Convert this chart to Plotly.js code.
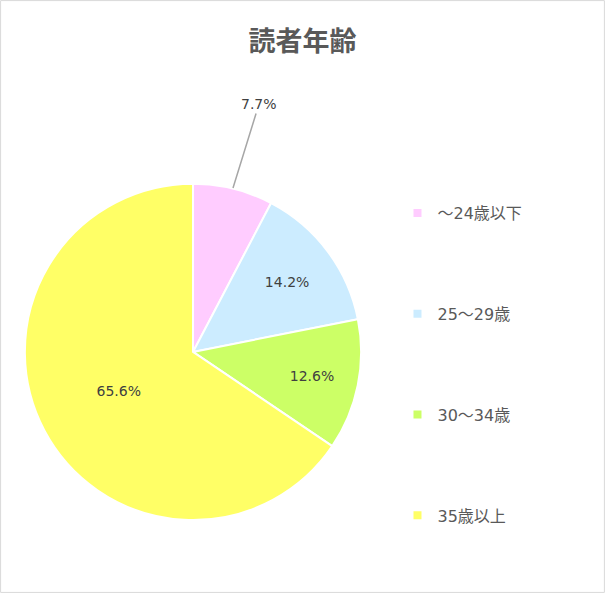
<!DOCTYPE html>
<html>
<head>
<meta charset="utf-8">
<script src="https://cdn.plot.ly/plotly-3.0.1.min.js"></script>
<style>
  html, body { margin: 0; padding: 0; background: #fff; }
  #chart { width: 605px; height: 593px; }
</style>
</head>
<body>
<div id="chart"></div>
<script>
// 読者年齢の内訳 (%)
var ageLabels = ['～24歳以下', '25～29歳', '30～34歳', '35歳以上'];
var ageValues = [7.7, 14.2, 12.6, 65.6];
var sliceColors = ['#FFCCFF', '#CCECFF', '#CCFF66', '#FFFF66'];

var font = '"DejaVu Sans", "Noto Sans CJK JP", sans-serif';
var titleFont = '"Noto Sans CJK JP", sans-serif';

var pie = {
  type: 'pie',
  labels: ageLabels,
  values: ageValues,
  sort: false,
  direction: 'clockwise',
  rotation: 0,
  marker: { colors: sliceColors, line: { color: '#FFFFFF', width: 2 } },
  texttemplate: '%{value:.1f}%',
  textposition: ['none', 'inside', 'inside', 'inside'],
  insidetextorientation: 'horizontal',
  textfont: { family: font, size: 14, color: '#404040' },
  hoverinfo: 'label+value',
  showlegend: false,
  domain: { x: [0.041, 0.597], y: [0.123, 0.690] }
};

// legend entries (square markers), one group each so they can be spaced apart
var traces = [pie];
for (var i = 0; i < ageLabels.length; i++) {
  traces.push({
    type: 'scatter',
    mode: 'markers',
    x: [null], y: [null],
    name: ageLabels[i],
    legendgroup: 'g' + i,
    marker: { symbol: 'square', size: 8, color: sliceColors[i] },
    hoverinfo: 'skip'
  });
}

var layout = {
  width: 605,
  height: 593,
  margin: { l: 0, r: 0, t: 0, b: 0 },
  paper_bgcolor: '#FFFFFF',
  plot_bgcolor: '#FFFFFF',
  font: { family: font, color: '#595959' },
  title: {
    text: '<b>読者年齢</b>',
    font: { family: titleFont, size: 27, color: '#595959' },
    x: 0.5, xanchor: 'center',
    y: 1 - 42 / 593, yanchor: 'middle', yref: 'container'
  },
  xaxis: { visible: false },
  yaxis: { visible: false },
  showlegend: true,
  legend: {
    x: 0.657, xanchor: 'left',
    y: 1 - 196 / 593, yanchor: 'top',
    tracegroupgap: 77,
    font: { family: font, size: 16, color: '#595959' },
    bgcolor: 'rgba(0,0,0,0)',
    itemclick: false
  },
  annotations: [{
    xref: 'paper', yref: 'paper',
    x: 233 / 605, y: 1 - 188 / 593,
    ax: 26, ay: -84,
    text: ageValues[0].toFixed(1) + '%',
    showarrow: true,
    arrowhead: 0,
    arrowwidth: 1.5,
    arrowcolor: '#A6A6A6',
    font: { family: font, size: 14, color: '#404040' }
  }],
  shapes: [{
    type: 'rect', xref: 'paper', yref: 'paper',
    x0: 0.001, x1: 0.999, y0: 0.001, y1: 0.999,
    line: { color: '#D9D9D9', width: 1 }
  }]
};

Plotly.newPlot('chart', traces, layout, { displayModeBar: false, staticPlot: true });
</script>
</body>
</html>
